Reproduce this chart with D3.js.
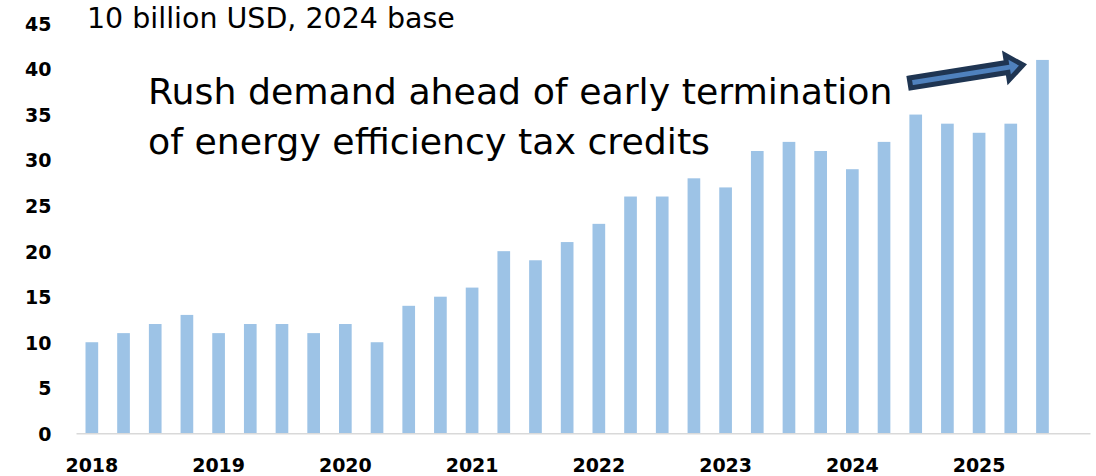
<!DOCTYPE html>
<html>
<head>
<meta charset="utf-8">
<script src="https://cdn.jsdelivr.net/npm/d3@7"></script>
<style>
  html, body { margin: 0; padding: 0; background: #fff; }
  svg { display: block; }
  .tick text { font-family: "DejaVu Sans", Verdana, sans-serif; font-weight: bold; font-size: 19px; fill: #000; }
</style>
</head>
<body>
<svg id="chart" width="1096" height="476"></svg>
<script>
// Quarterly periods, 2018 Q1 .. 2025 Q4 (the last quarter has no figure yet)
const years = ["2018", "2019", "2020", "2021", "2022", "2023", "2024", "2025"];
const quarters = ["Q1", "Q2", "Q3", "Q4"];
const periods = years.flatMap(y => quarters.map(q => y + " " + q));

// Spending, 10 billion USD (2024 base)
const values = [
  10, 11, 12, 13,
  11, 12, 12, 11,
  12, 10, 14, 15,
  16, 20, 19, 21,
  23, 26, 26, 28,
  27, 31, 32, 31,
  29, 32, 35, 34,
  33, 34, 41
];

const yTicks = [0, 5, 10, 15, 20, 25, 30, 35, 40, 45];
const unitLabel = "10 billion USD, 2024 base";
const noteLines = ["Rush demand ahead of early termination", "of energy efficiency tax credits"];

const svg = d3.select("#chart");
const plot = { left: 76, right: 1090, top: 23.5, bottom: 433.3 };
const FONT = "DejaVu Sans, Verdana, sans-serif";

const x = d3.scaleBand()
  .domain(periods)
  .range([plot.left, plot.right])
  .paddingInner(0.6)
  .paddingOuter(0.3);

const y = d3.scaleLinear()
  .domain([0, 45])
  .range([plot.bottom, plot.top]);

const barData = values.map((v, i) => ({ period: periods[i], value: v }));

// Scale a text element's font so its rendered width equals `width`
function fitText(sel, width) {
  const len = sel.node().getComputedTextLength();
  const fs = parseFloat(sel.attr("font-size"));
  const next = fs * width / len;
  sel.attr("font-size", next);
  return next;
}

// Bars
svg.append("g")
  .selectAll("rect")
  .data(barData)
  .join("rect")
  .attr("x", d => x(d.period))
  .attr("width", x.bandwidth())
  .attr("y", d => y(d.value))
  .attr("height", d => y(0) - y(d.value))
  .attr("fill", "#9dc3e6");

// Y axis labels (no axis line)
const yAxis = d3.axisLeft(y).tickValues(yTicks).tickSize(0).tickPadding(0);
const yg = svg.append("g")
  .attr("transform", "translate(51.5,0)")
  .call(yAxis);
yg.select(".domain").remove();
yg.selectAll("text").attr("dy", "0.36em");

// X axis baseline and year labels under each Q1 bar
const xAxis = d3.axisBottom(x)
  .tickValues(periods.filter(p => p.endsWith("Q1")))
  .tickFormat(p => p.slice(0, 4))
  .tickSize(0)
  .tickPadding(0);
const xg = svg.append("g")
  .attr("transform", `translate(0,${plot.bottom})`)
  .call(xAxis);
xg.select(".domain")
  .attr("stroke", "#d9d9d9")
  .attr("stroke-width", 1.5);
xg.selectAll("text")
  .attr("y", 38.5)
  .attr("dy", 0);

// Unit label
const unit = svg.append("text")
  .attr("x", 87)
  .attr("y", 28)
  .attr("font-family", FONT)
  .attr("font-size", 22)
  .attr("fill", "#000")
  .text(unitLabel);
fitText(unit, 368);

// Annotation text
const note = svg.append("g")
  .attr("font-family", FONT)
  .attr("fill", "#000");
const noteBase = [104, 154];
let noteFs = 32;
noteLines.forEach((t, i) => {
  const tx = note.append("text")
    .attr("x", 148)
    .attr("y", noteBase[i])
    .attr("font-size", noteFs)
    .text(t);
  if (i === 0) noteFs = fitText(tx, 745);
});

// Block arrow pointing at the latest quarter
const tail = [910, 83];
const tip = [1023, 65];
const ang = Math.atan2(tip[1] - tail[1], tip[0] - tail[0]) * 180 / Math.PI;
const len = Math.hypot(tip[0] - tail[0], tip[1] - tail[1]);
const shaft = 5, head = 12.5, headLen = 16;
const arrowPts = [
  [0, -shaft], [len - headLen, -shaft], [len - headLen, -head],
  [len, 0], [len - headLen, head], [len - headLen, shaft], [0, shaft]
];
svg.append("polygon")
  .attr("transform", `translate(${tail[0]},${tail[1]}) rotate(${ang})`)
  .attr("points", arrowPts.map(p => p.join(",")).join(" "))
  .attr("fill", "#4f81bd")
  .attr("stroke", "#1f3552")
  .attr("stroke-width", 5)
  .attr("stroke-linejoin", "miter")
  .attr("stroke-miterlimit", 4);
</script>
</body>
</html>
